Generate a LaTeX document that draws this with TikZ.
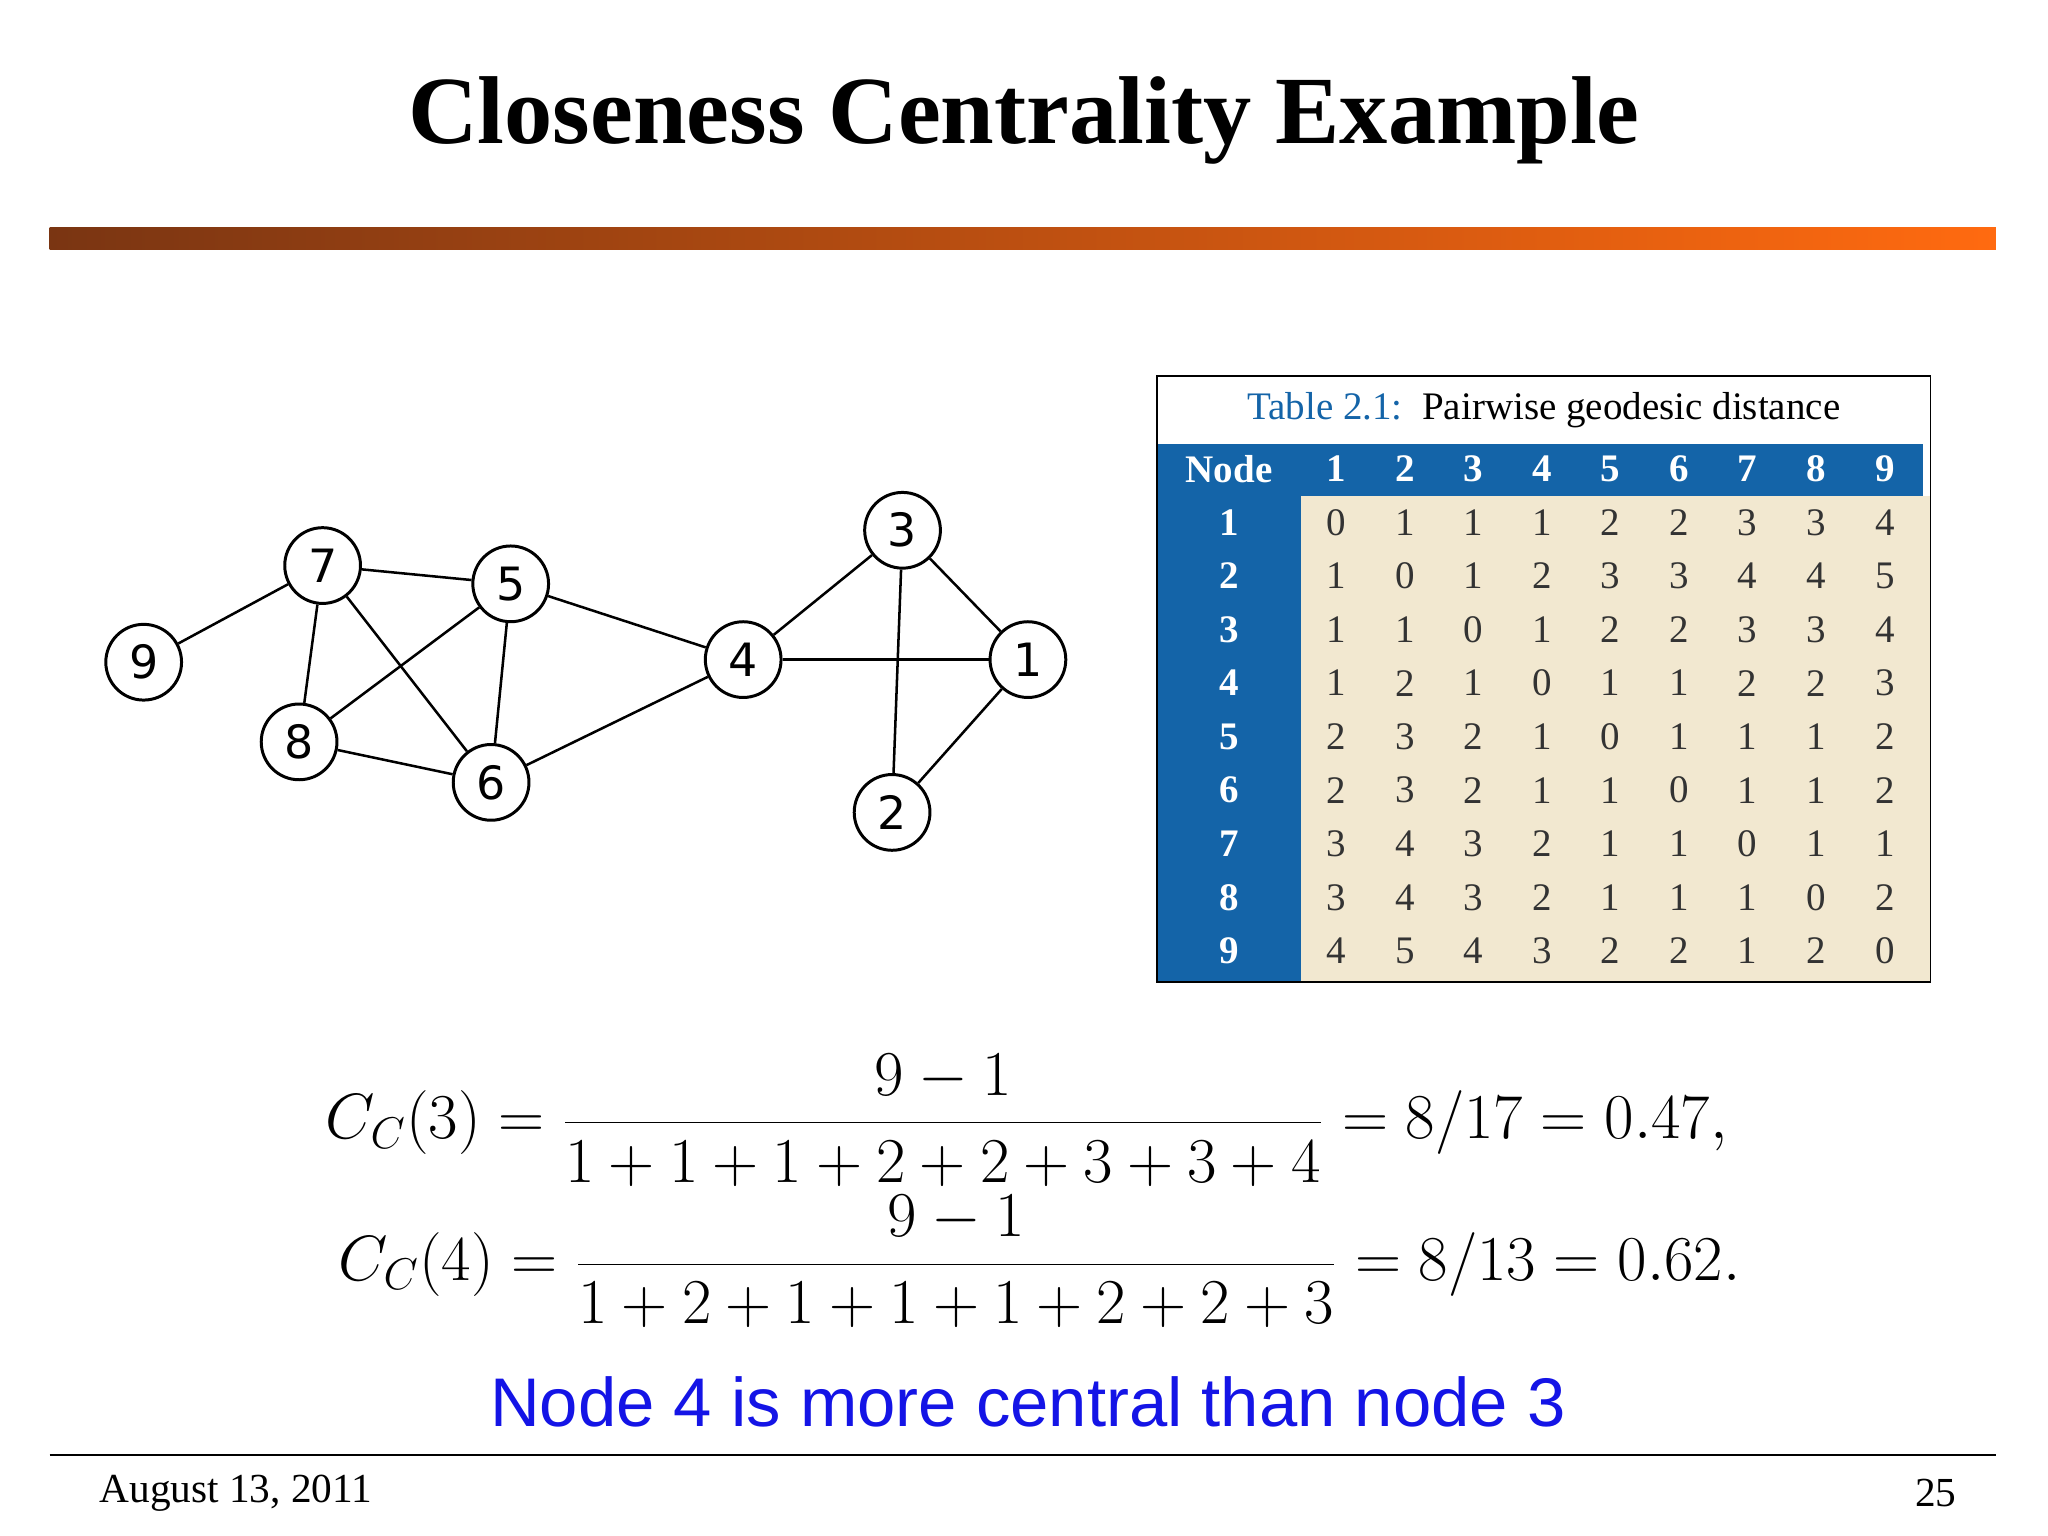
\documentclass[tikz,border=0pt]{standalone}
\usepackage{fontspec}
\setmainfont{Liberation Serif}
\setsansfont{DejaVu Sans}
\newfontfamily\arialf{Liberation Sans}
\usetikzlibrary{calc}
\definecolor{tblue}{HTML}{1464A8}
\definecolor{tbeige}{HTML}{F2E8D0}
\definecolor{barL}{HTML}{7A3512}
\definecolor{barR}{HTML}{FF6A10}
\definecolor{txtblue}{HTML}{1414E6}
\begin{document}
\begin{tikzpicture}[x=0.02cm,y=-0.02cm,
  gnode/.style={circle,draw,line width=1.3pt,minimum size=1.16cm,inner sep=0pt,font=\sffamily\fontsize{20}{22}\selectfont},
  gedge/.style={line width=1.1pt},
  cell/.style={font=\fontsize{17}{18}\selectfont,anchor=center},
  eqn/.style={scale=1.12,transform shape,inner sep=0pt}]
\useasboundingbox (0,0) rectangle (1568,1176);
\node (title) at (784,92) {\fontsize{42}{50}\selectfont\bfseries Closeness Centrality Example};
\shade[left color=barL,right color=barR] (38,174) rectangle (1528,191);
% graph
\foreach \n/\x/\y in {9/110/507,7/247/433,5/391/447,8/229/568,6/376/599,4/569/505,3/691/406,1/787/505,2/683/622}
  \node[gnode] (n\n) at (\x,\y) {\n};
\foreach \a/\b in {9/7,7/5,7/8,7/6,5/8,5/6,5/4,8/6,6/4,4/3,4/1,3/1,3/2,2/1}
  \draw[gedge] (n\a) -- (n\b);
% table
\fill[tblue] (886,340) rectangle (1472,380);
\fill[tblue] (886,380) rectangle (996,752);
\fill[tbeige] (996,380) rectangle (1478,752);
\draw[line width=0.8pt] (886,288) rectangle (1478,752);
\node (tcap) at (1182,314) {\fontsize{17}{20}\selectfont\textcolor{tblue}{Table 2.1:}\ \ Pairwise geodesic distance};
\node[cell,text=white,font=\fontsize{17}{18}\selectfont\bfseries] (hN) at (941,359) {Node};
\foreach \c in {1,...,9}
  \node[cell,text=white,font=\fontsize{17}{18}\selectfont\bfseries] (h\c) at ({1023+52.5*(\c-1)},359) {\c};
\foreach \r/\vals in {1/{0,1,1,1,2,2,3,3,4},2/{1,0,1,2,3,3,4,4,5},3/{1,1,0,1,2,2,3,3,4},4/{1,2,1,0,1,1,2,2,3},5/{2,3,2,1,0,1,1,1,2},6/{2,3,2,1,1,0,1,1,2},7/{3,4,3,2,1,1,0,1,1},8/{3,4,3,2,1,1,1,0,2},9/{4,5,4,3,2,2,1,2,0}}{
  \node[cell,text=white,font=\fontsize{17}{18}\selectfont\bfseries] (r\r) at (941,{400+41*(\r-1)}) {\r};
  \foreach \v [count=\c] in \vals
    \node[cell,text=black!80] (c\r-\c) at ({1023+52.5*(\c-1)},{400+41*(\r-1)}) {\v};
}
% equations
\node[eqn] (eq1) at (786,858) {\fontsize{27}{32}\selectfont$\displaystyle C_C(3)=\frac{9-1}{1+1+1+2+2+3+3+4}=8/17=0.47,$};
\node[eqn] (eq2) at (796,966) {\fontsize{27}{32}\selectfont$\displaystyle C_C(4)=\frac{9-1}{1+2+1+1+1+2+2+3}=8/13=0.62.$};
\node[text=txtblue] (concl) at (787,1073) {\arialf\fontsize{30}{34}\selectfont Node 4 is more central than node 3};
\draw[line width=1pt] (38,1114) -- (1528,1114);
\node[anchor=west] (date) at (70,1143) {\fontsize{18}{20}\selectfont August 13, 2011};
\node[anchor=east] (pg) at (1504,1143) {\fontsize{18}{20}\selectfont 25};
\end{tikzpicture}
\end{document}
